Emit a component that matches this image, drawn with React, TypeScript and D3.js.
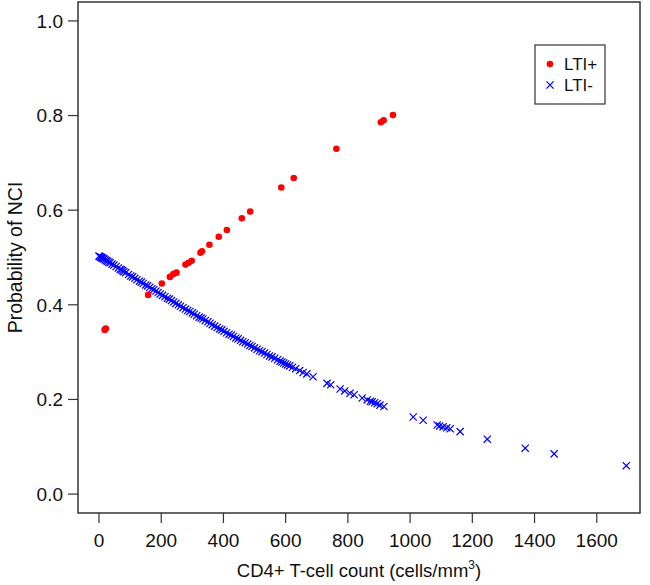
import React from "react";
import * as d3 from "d3";

const xTicks = [0, 200, 400, 600, 800, 1000, 1200, 1400, 1600];
const yTicks = [0.0, 0.2, 0.4, 0.6, 0.8, 1.0];

const ltiPlusX = [18, 22, 158, 202, 228, 239, 249, 278, 288, 298, 326, 331, 355, 385, 411, 459, 486, 586, 626, 763, 906, 915, 945];
const ltiPlusY = [0.347, 0.350, 0.421, 0.445, 0.459, 0.465, 0.468, 0.485, 0.489, 0.493, 0.510, 0.513, 0.527, 0.544, 0.558, 0.583, 0.597, 0.648, 0.668, 0.730, 0.786, 0.790, 0.801];

const ltiMinusX = [0, 3, 5, 8, 10, 13, 16, 20, 24, 28, 32, 36, 42, 48, 55, 62, 68, 72, 76, 80, 86, 95, 102, 108, 115, 122, 130, 136, 142, 150, 156, 163, 170, 176, 183, 190, 197, 204, 212, 220, 226, 233, 240, 247, 255, 262, 270, 278, 285, 292, 300, 306, 314, 322, 328, 334, 342, 350, 357, 364, 372, 380, 388, 395, 402, 410, 418, 425, 432, 440, 447, 455, 462, 470, 478, 485, 492, 500, 508, 516, 524, 532, 540, 548, 556, 565, 574, 582, 588, 594, 600, 606, 613, 622, 632, 645, 656, 668, 688, 733, 745, 775, 790, 807, 820, 846, 862, 872, 878, 886, 894, 903, 916, 1010, 1042, 1087, 1095, 1106, 1118, 1129, 1161, 1248, 1370, 1463, 1695];
const ltiMinusY = [0.503, 0.502, 0.501, 0.500, 0.499, 0.498, 0.497, 0.495, 0.493, 0.492, 0.490, 0.489, 0.486, 0.484, 0.481, 0.478, 0.475, 0.474, 0.472, 0.470, 0.468, 0.464, 0.461, 0.459, 0.456, 0.453, 0.450, 0.448, 0.445, 0.442, 0.440, 0.437, 0.434, 0.432, 0.429, 0.426, 0.423, 0.420, 0.417, 0.414, 0.412, 0.409, 0.406, 0.403, 0.400, 0.397, 0.394, 0.391, 0.388, 0.386, 0.383, 0.380, 0.377, 0.374, 0.372, 0.370, 0.367, 0.364, 0.361, 0.358, 0.355, 0.352, 0.349, 0.347, 0.344, 0.341, 0.338, 0.336, 0.333, 0.330, 0.328, 0.325, 0.322, 0.320, 0.317, 0.314, 0.312, 0.309, 0.306, 0.303, 0.301, 0.298, 0.295, 0.292, 0.290, 0.287, 0.284, 0.281, 0.279, 0.277, 0.275, 0.273, 0.271, 0.268, 0.265, 0.261, 0.257, 0.254, 0.248, 0.234, 0.231, 0.222, 0.218, 0.213, 0.210, 0.203, 0.199, 0.196, 0.195, 0.193, 0.191, 0.188, 0.185, 0.163, 0.156, 0.146, 0.144, 0.142, 0.140, 0.138, 0.132, 0.116, 0.097, 0.085, 0.060];

const W = 650;
const H = 585;
const box = { left: 78, right: 640, top: 2, bottom: 513 };

export default function App() {
  const x = d3.scaleLinear().domain([-67.5, 1739]).range([box.left, box.right]);
  const y = d3.scaleLinear().domain([-0.04, 1.04]).range([box.bottom, box.top]);
  const font = "'Liberation Sans', Arial, sans-serif";
  const axisColor = "#333";
  const cs = 3.6;

  return (
    <svg
      width={W}
      height={H}
      style={{ position: "absolute", left: 0, top: 0, background: "#fff" }}
      fontFamily={font}
    >
      <rect x={0} y={0} width={W} height={H} fill="#fff" />
      <rect
        x={box.left}
        y={box.top}
        width={box.right - box.left}
        height={box.bottom - box.top}
        fill="none"
        stroke={axisColor}
        strokeWidth={1.5}
      />
      {yTicks.map((t) => (
        <g key={"y" + t}>
          <line x1={box.left - 10} x2={box.left} y1={y(t)} y2={y(t)} stroke={axisColor} strokeWidth={1.2} />
          <text x={box.left - 15} y={y(t)} dy="0.36em" textAnchor="end" fontSize={19} fill="#111">
            {d3.format(".1f")(t)}
          </text>
        </g>
      ))}
      {xTicks.map((t) => (
        <g key={"x" + t}>
          <line x1={x(t)} x2={x(t)} y1={box.bottom} y2={box.bottom + 10} stroke={axisColor} strokeWidth={1.2} />
          <text x={x(t)} y={547} textAnchor="middle" fontSize={19} fill="#111">
            {t}
          </text>
        </g>
      ))}
      <text x={(box.left + box.right) / 2} y={577} textAnchor="middle" fontSize={18.5} fill="#111">
        CD4+ T-cell count (cells/mm
        <tspan dy={-8} fontSize={12}>3</tspan>
        <tspan dy={8}>)</tspan>
      </text>
      <text
        transform={`translate(22, ${(box.top + box.bottom) / 2}) rotate(-90)`}
        textAnchor="middle"
        fontSize={19.5}
        fill="#111"
      >
        Probability of NCI
      </text>
      <g stroke="#0000ff" strokeWidth={1.2} fill="none">
        {ltiMinusX.map((v, i) => {
          const cx = x(v);
          const cy = y(ltiMinusY[i]);
          return (
            <path
              key={"m" + i}
              d={`M${cx - cs},${cy - cs}L${cx + cs},${cy + cs}M${cx - cs},${cy + cs}L${cx + cs},${cy - cs}`}
            />
          );
        })}
      </g>
      <g fill="#ff0000">
        {ltiPlusX.map((v, i) => (
          <circle key={"p" + i} cx={x(v)} cy={y(ltiPlusY[i])} r={3.3} />
        ))}
      </g>
      <rect x={535} y={45} width={70} height={59} fill="#fff" stroke={axisColor} strokeWidth={1.2} />
      <circle cx={550} cy={64} r={3.3} fill="#ff0000" />
      <path d={`M${550 - cs},${85 - cs}L${550 + cs},${85 + cs}M${550 - cs},${85 + cs}L${550 + cs},${85 - cs}`} stroke="#0000ff" strokeWidth={1.2} />
      <text x={564} y={64} dy="0.36em" fontSize={17} fill="#111">LTI+</text>
      <text x={564} y={85} dy="0.36em" fontSize={17} fill="#111">LTI-</text>
    </svg>
  );
}
